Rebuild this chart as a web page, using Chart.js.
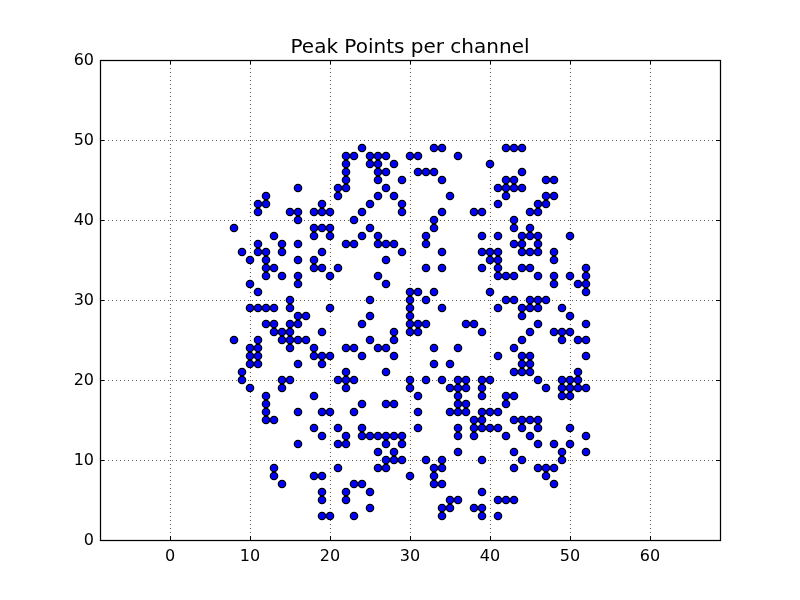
<!DOCTYPE html>
<html>
<head>
<meta charset="utf-8">
<title>Peak Points per channel</title>
<script src="https://cdn.jsdelivr.net/npm/chart.js@4"></script>
<style>
  html, body { margin: 0; padding: 0; background: #fff; }
  canvas { display: block; }
</style>
</head>
<body>
<canvas id="myChart" width="800" height="600"></canvas>
<script>
const axisTicks = [0, 10, 20, 30, 40, 50, 60];

// peak values, one list of x (channel) per y level
const yLevels = [49, 48, 47, 46, 45, 44, 43, 42, 41, 40, 39, 38, 37, 36, 35, 34, 33, 32, 31, 30, 29, 28, 27, 26, 25,
  24, 23, 22, 21, 20, 19, 18, 17, 16, 15, 14, 13, 12, 11, 10, 9, 8, 7, 6, 5, 4, 3];
const xAtLevel = [
  [24, 33, 34, 42, 43, 44],
  [22, 23, 25, 26, 27, 30, 31, 36],
  [22, 25, 26, 28, 40],
  [22, 26, 27, 31, 32, 33, 44],
  [22, 26, 29, 34, 42, 43, 47, 48],
  [16, 21, 22, 27, 41, 42, 43, 44],
  [12, 21, 26, 28, 35, 42, 47, 48],
  [11, 12, 19, 25, 29, 41, 46, 47],
  [11, 15, 16, 18, 19, 20, 24, 29, 34, 38, 39, 45, 46],
  [16, 23, 33, 43],
  [8, 18, 19, 20, 25, 33, 43, 45],
  [13, 18, 20, 24, 26, 32, 39, 41, 44, 45, 46, 50],
  [11, 14, 16, 22, 23, 26, 27, 28, 32, 43, 44, 46],
  [9, 11, 12, 14, 19, 29, 34, 39, 40, 41, 44, 45, 46, 48],
  [10, 12, 16, 18, 27, 40, 41, 48],
  [12, 13, 18, 19, 21, 32, 34, 39, 41, 44, 45, 52],
  [12, 14, 16, 20, 26, 41, 42, 43, 46, 48, 50, 52],
  [10, 16, 27, 48, 51, 52],
  [11, 30, 31, 33, 40, 52],
  [15, 25, 30, 32, 42, 43, 45, 46, 47],
  [10, 11, 12, 13, 15, 20, 30, 34, 41, 44, 45, 46, 49],
  [16, 17, 25, 30, 44, 50],
  [12, 13, 15, 16, 24, 30, 31, 32, 37, 38, 46, 52],
  [13, 14, 15, 19, 28, 30, 31, 39, 45, 48, 49, 50],
  [8, 11, 14, 15, 16, 17, 25, 28, 44, 49, 51, 52],
  [10, 11, 15, 18, 22, 23, 26, 27, 33, 36, 43],
  [10, 11, 18, 19, 20, 24, 28, 41, 44, 45, 52],
  [10, 11, 16, 19, 33, 35, 44, 45],
  [9, 22, 27, 43, 44, 45, 51],
  [9, 14, 15, 21, 22, 23, 30, 32, 34, 36, 37, 39, 40, 46, 49, 50, 51],
  [10, 14, 22, 30, 35, 36, 37, 39, 47, 49, 50, 51, 52],
  [12, 18, 31, 36, 39, 42, 43, 49, 50],
  [12, 24, 27, 28, 36, 37, 42],
  [12, 16, 19, 20, 23, 31, 35, 36, 37, 39, 40, 41],
  [12, 13, 38, 39, 43, 44, 45, 46],
  [18, 21, 24, 31, 36, 38, 39, 40, 41, 44, 46, 50],
  [19, 22, 24, 25, 26, 27, 28, 29, 36, 38, 42, 45, 52],
  [16, 21, 22, 27, 29, 46, 48, 50],
  [26, 28, 36, 43, 49, 52],
  [27, 28, 29, 32, 34, 39, 44, 49],
  [13, 21, 26, 27, 33, 34, 43, 46, 47, 48],
  [13, 18, 19, 30, 33, 47],
  [14, 23, 24, 33, 34, 48],
  [19, 22, 25, 39],
  [19, 22, 35, 36, 41, 42, 43],
  [25, 34, 35, 38, 39],
  [19, 20, 23, 34, 39, 41],
];

const points = [];
yLevels.forEach((y, i) => {
  xAtLevel[i].forEach((x) => points.push({ x: x, y: y }));
});

const tickFont = { family: "'DejaVu Sans'", size: 16 };

// frame and the small inward tick marks on all four sides
const framePlugin = {
  id: "frame",
  afterDraw(chart) {
    const c = chart.ctx;
    const a = chart.chartArea;
    c.save();
    c.strokeStyle = "#000";
    c.lineWidth = 1.25;
    c.strokeRect(a.left + 0.5, a.top + 0.5, a.right - a.left, a.bottom - a.top);
    c.beginPath();
    chart.scales.x.ticks.forEach((t) => {
      const px = Math.round(chart.scales.x.getPixelForValue(t.value)) + 0.5;
      c.moveTo(px, a.bottom);
      c.lineTo(px, a.bottom - 4);
      c.moveTo(px, a.top);
      c.lineTo(px, a.top + 4);
    });
    chart.scales.y.ticks.forEach((t) => {
      const py = Math.round(chart.scales.y.getPixelForValue(t.value)) + 0.5;
      c.moveTo(a.left, py);
      c.lineTo(a.left + 4, py);
      c.moveTo(a.right, py);
      c.lineTo(a.right - 4, py);
    });
    c.lineWidth = 1;
    c.stroke();
    c.restore();
  },
};

function gridOptions() {
  return {
    color: "rgba(0,0,0,0.65)",
    lineWidth: 1,
    drawTicks: false,
  };
}

const ctx = document.getElementById("myChart").getContext("2d");

const myChart = new Chart(ctx, {
  type: "scatter",
  data: {
    datasets: [{
      label: "Peak Points",
      data: points,
      backgroundColor: "#0000ff",
      borderColor: "#000",
      borderWidth: 1.25,
      pointRadius: 3.7,
    }],
  },
  options: {
    responsive: false,
    animation: false,
    layout: { padding: { right: 80 } },
    plugins: {
      legend: { display: false },
      tooltip: { enabled: false },
      title: {
        display: true,
        fullSize: false,
        text: "Peak Points per channel",
        color: "#000",
        font: { family: "'DejaVu Sans'", size: 20, weight: "normal", lineHeight: 1 },
        padding: { top: 38, bottom: 2 },
      },
    },
    scales: {
      x: {
        type: "linear",
        min: -8.75,
        max: 68.75,
        afterBuildTicks: (axis) => { axis.ticks = axisTicks.map((v) => ({ value: v })); },
        afterFit: (axis) => { axis.height = 60; },
        grid: gridOptions(),
        border: { display: false, dash: [1, 3] },
        ticks: { color: "#000", font: tickFont, padding: 7, maxRotation: 0, autoSkip: false },
      },
      y: {
        type: "linear",
        min: 0,
        max: 60,
        afterBuildTicks: (axis) => { axis.ticks = axisTicks.map((v) => ({ value: v })); },
        afterFit: (axis) => { axis.width = 100; },
        grid: gridOptions(),
        border: { display: false, dash: [1, 3] },
        ticks: { color: "#000", font: tickFont, padding: 6, labelOffset: 1, autoSkip: false },
      },
    },
  },
  plugins: [framePlugin],
});
</script>
</body>
</html>
